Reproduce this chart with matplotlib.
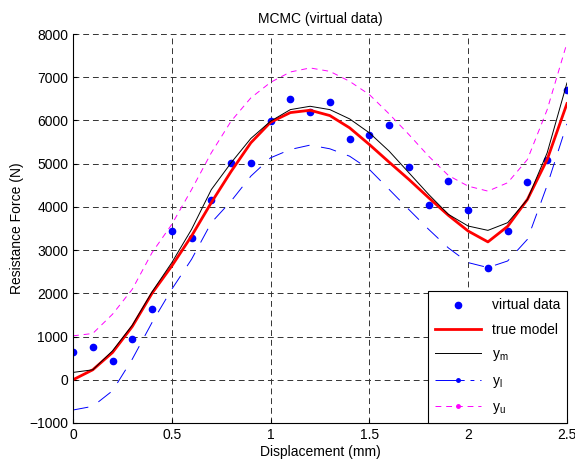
import matplotlib.pyplot as plt
from matplotlib.lines import Line2D

# ------------------------------------------------------------
# Data
# ------------------------------------------------------------
disp = [0.0, 0.1, 0.2, 0.3, 0.4, 0.5, 0.6, 0.7, 0.8, 0.9, 1.0, 1.1, 1.2,
        1.3, 1.4, 1.5, 1.6, 1.7, 1.8, 1.9, 2.0, 2.1, 2.2, 2.3, 2.4, 2.5]

virtual_data = [647, 755, 439, 940, 1649, 3434, 3273, 4169, 5007, 5007,
                5993, 6485, 6190, 6438, 5570, 5670, 5885, 4915, 4038, 4592,
                3938, 2596, 3436, 4573, 5090, 6707]

true_model = [0, 231, 632, 1233, 2002, 2633, 3326, 4100, 4820, 5483,
              5960, 6182, 6236, 6113, 5829, 5443, 5035, 4635, 4212, 3804,
              3441, 3190, 3550, 4173, 5097, 6390]

y_m = [170, 231, 670, 1263, 2033, 2711, 3480, 4400, 5020, 5583,
       5983, 6251, 6328, 6251, 6036, 5713, 5290, 4790, 4289, 3827,
       3557, 3457, 3635, 4173, 5252, 6868]

y_l = [-700, -614, -254, 478, 1326, 2095, 2788, 3635, 4134, 4711,
       5136, 5328, 5430, 5344, 5173, 4866, 4404, 3938, 3480, 3050,
       2711, 2596, 2749, 3250, 4500, 5920]

y_u = [1016, 1071, 1517, 2095, 2942, 3596, 4400, 5252, 5983, 6522,
       6882, 7122, 7215, 7136, 6905, 6598, 6152, 5674, 5173, 4727,
       4480, 4365, 4559, 5097, 6251, 7792]

xticks = [0, 0.5, 1, 1.5, 2, 2.5]
xtick_labels = ["0", "0.5", "1", "1.5", "2", "2.5"]
yticks = list(range(-1000, 8001, 1000))

# ------------------------------------------------------------
# Plot
# ------------------------------------------------------------
plt.rcParams["font.family"] = ["Liberation Sans", "DejaVu Sans"]
plt.rcParams["font.size"] = 10

fig = plt.figure(figsize=(5.75, 4.66), dpi=100)
ax = fig.add_axes([0.127, 0.0923, 0.859, 0.8347])

BLUE = "#0000ff"
MAGENTA = "#ff00ff"

ax.plot(disp, virtual_data, ".", color=BLUE, markersize=9)
ax.plot(disp, true_model, "-", color="#ff0000", linewidth=2)
ax.plot(disp, y_m, "-", color="black", linewidth=0.7)
ax.plot(disp, y_l, color=BLUE, linewidth=0.7, dashes=(16, 12))
ax.plot(disp, y_u, color=MAGENTA, linewidth=0.7, dashes=(6, 5))

ax.set_xlim(0, 2.5)
ax.set_ylim(-1000, 8000)
ax.set_xticks(xticks)
ax.set_xticklabels(xtick_labels)
ax.set_yticks(yticks)

ax.grid(True, color="#333333", linestyle=(0, (6, 4)), linewidth=0.7)
ax.spines["top"].set_visible(False)
ax.spines["right"].set_visible(False)
ax.tick_params(direction="in", length=3, labelsize=10)

ax.set_title("MCMC (virtual data)", fontsize=10, pad=8)
ax.set_xlabel("Displacement (mm)", fontsize=10, labelpad=2)
ax.set_ylabel("Resistance Force (N)", fontsize=10, labelpad=4)

# legend proxies (the bounds show a small point marker in the key only)
handles = [
    Line2D([], [], linestyle="none", marker=".", color=BLUE, markersize=9),
    Line2D([], [], color="#ff0000", linewidth=2),
    Line2D([], [], color="black", linewidth=0.7),
    Line2D([], [], color=BLUE, linewidth=0.7, marker=".", markersize=5,
           dashes=(30, 6, 4, 6)),
    Line2D([], [], color=MAGENTA, linewidth=0.7, marker=".", markersize=5,
           dashes=(6, 5)),
]
labels = ["virtual data", "true model", "$\\mathregular{y_m}$",
          "$\\mathregular{y_l}$", "$\\mathregular{y_u}$"]
leg = ax.legend(handles, labels, loc="lower right", fontsize=10,
                fancybox=False, framealpha=1, edgecolor="black",
                borderaxespad=0, handlelength=3.3, labelspacing=0.75,
                borderpad=0.5)
leg.get_frame().set_linewidth(0.8)

fig.savefig("out.png", dpi=100)
